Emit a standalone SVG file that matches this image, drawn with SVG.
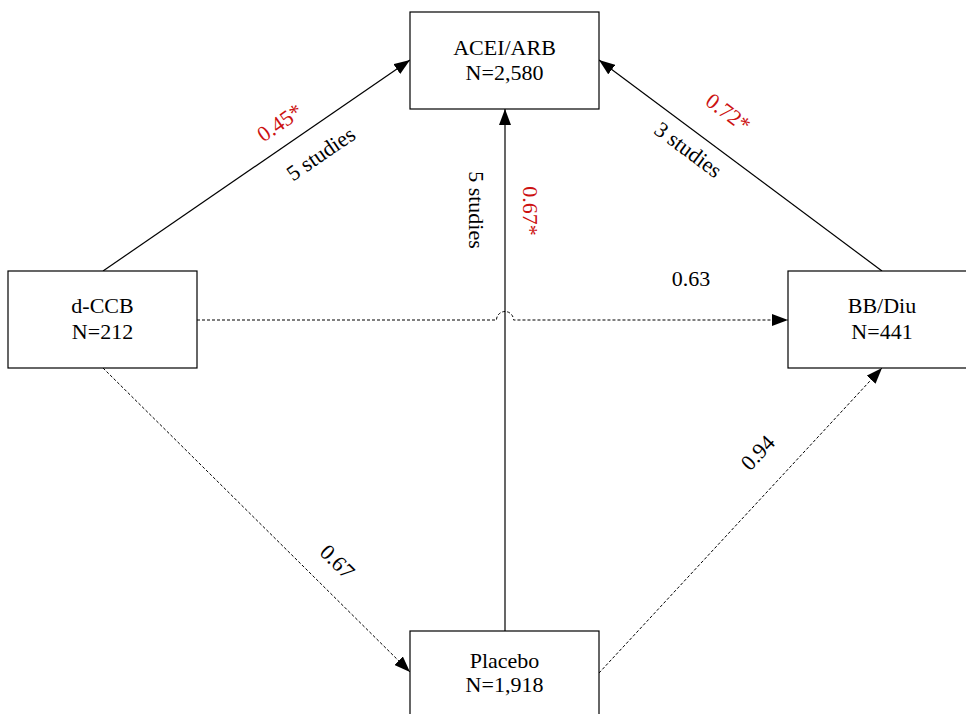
<svg xmlns="http://www.w3.org/2000/svg" width="966" height="714" viewBox="0 0 966 714">
<style>
.box{fill:#fff;stroke:#000;stroke-width:1.2}
.t{font-family:"Liberation Serif","Times New Roman",serif;font-size:22px;fill:#000;text-anchor:middle}
.r{fill:#cc1111}
.ln{fill:none;stroke:#000;stroke-width:1.2}
.dash{fill:none;stroke:#000;stroke-width:1;stroke-dasharray:3,2}
</style>
<defs>
<marker id="ah" viewBox="0 0 16 12" refX="16" refY="6" markerWidth="16" markerHeight="12" markerUnits="userSpaceOnUse" orient="auto">
<path d="M0,0 L16,6 L0,12 Z" fill="#000"/>
</marker>
</defs>
<rect width="966" height="714" fill="#fff"/>
<g id="connectors">
<line class="ln" x1="103" y1="271" x2="410" y2="60" marker-end="url(#ah)"/>
<line class="ln" x1="882" y1="271" x2="599" y2="60" marker-end="url(#ah)"/>
<line class="ln" x1="505" y1="631" x2="505" y2="109" marker-end="url(#ah)"/>
<path class="dash" d="M197,320 L496.5,320 A8.5,8.5 0 0 1 513.5,320 L788,320" marker-end="url(#ah)"/>
<line class="dash" x1="103" y1="368" x2="410" y2="672" marker-end="url(#ah)"/>
<line class="dash" x1="599" y1="673" x2="882" y2="368" marker-end="url(#ah)"/>
<text class="t r" transform="translate(280,123) rotate(-34.5)" y="7">0.45*</text>
<text class="t" transform="translate(321,154) rotate(-34.5)" y="7">5 studies</text>
<text class="t r" transform="translate(530,211) rotate(90)" y="7">0.67*</text>
<text class="t" transform="translate(476,210) rotate(90)" y="7">5 studies</text>
<text class="t r" transform="translate(728,113) rotate(36.7)" y="7">0.72*</text>
<text class="t" transform="translate(688,150) rotate(36.7)" y="7">3 studies</text>
<text class="t" x="691" y="286">0.63</text>
<text class="t" transform="translate(337,562) rotate(44.7)" y="7">0.67</text>
<text class="t" transform="translate(758,453) rotate(-47)" y="7">0.94</text>
</g>
<g id="node-acei">
<rect class="box" x="410" y="12" width="189" height="97"/>
<text class="t" x="504.5" y="55">ACEI/ARB</text>
<text class="t" x="504.5" y="80">N=2,580</text>
</g>
<g id="node-dccb">
<rect class="box" x="8" y="271" width="189" height="97"/>
<text class="t" x="102.5" y="313">d-CCB</text>
<text class="t" x="102.5" y="339">N=212</text>
</g>
<g id="node-bbdiu">
<rect class="box" x="788" y="271" width="189" height="97"/>
<text class="t" x="882" y="313">BB/Diu</text>
<text class="t" x="882" y="339">N=441</text>
</g>
<g id="node-placebo">
<rect class="box" x="410" y="631" width="189" height="97"/>
<text class="t" x="504.5" y="668">Placebo</text>
<text class="t" x="504.5" y="692">N=1,918</text>
</g>
</svg>
